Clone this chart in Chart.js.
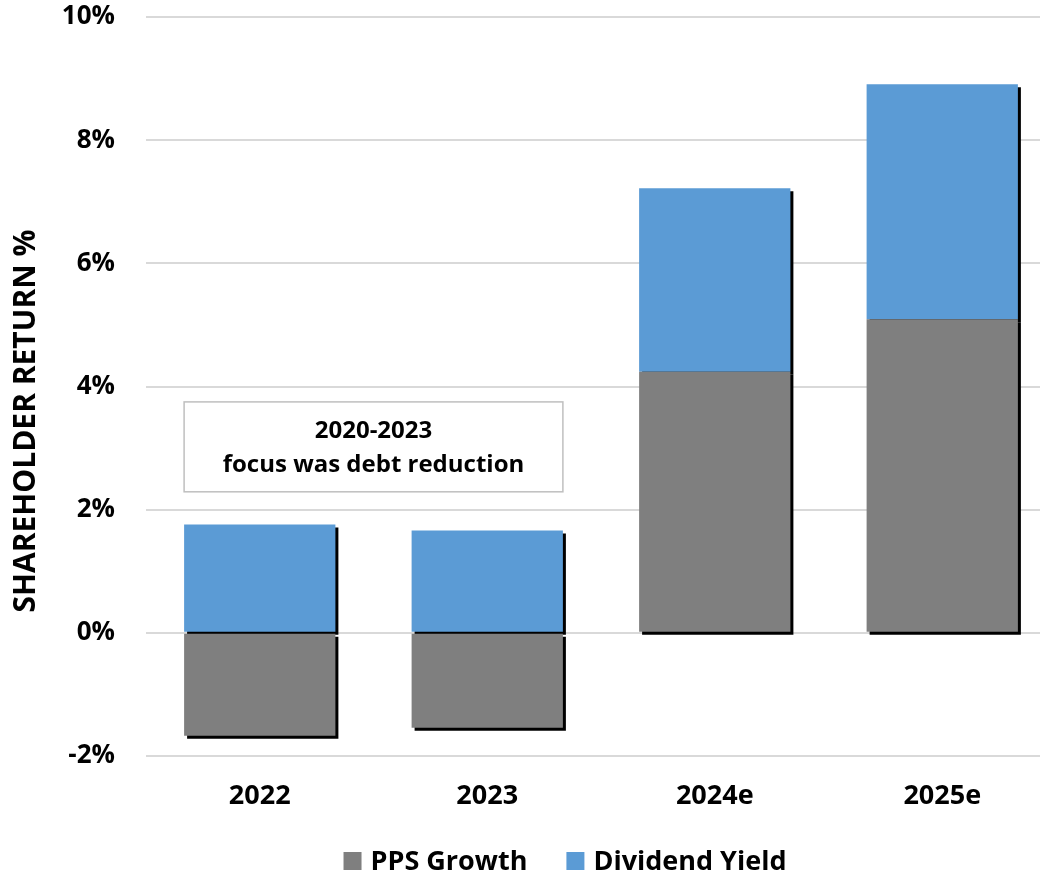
<!DOCTYPE html>
<html>
<head>
<meta charset="utf-8">
<script src="https://cdn.jsdelivr.net/npm/chart.js@4.4.1/dist/chart.umd.min.js"></script>
<style>
  html, body { margin: 0; padding: 0; background: #fff; }
  #wrap { width: 1040px; height: 875px; position: relative; }
</style>
</head>
<body>
<div id="wrap"><canvas id="c" width="1040" height="875"></canvas></div>
<script>
// ---- data ----
const categories = ['2022', '2023', '2024e', '2025e'];
const ppsGrowth = [-1.67, -1.54, 4.24, 5.09];
const dividendYield = [1.76, 1.66, 2.98, 3.82];
const seriesNames = ['PPS Growth', 'Dividend Yield'];
const yTicks = [-2, 0, 2, 4, 6, 8, 10];
const axisTitle = 'SHAREHOLDER RETURN %';
const noteLines = ['2020-2023', 'focus was debt reduction'];
const noteRange = [2.29, 3.75];   // value range of the note box

const GRAY = '#7f7f7f';
const BLUE = '#5b9bd5';
const FONT = '"Open Sans", sans-serif';
const OVERHANG = 16; // plot area runs past the right edge of the canvas

const overhangPlugin = {
  id: 'overhang',
  afterLayout(chart) {
    const x = chart.scales.x;
    const ca = chart.chartArea;
    x.right = chart.width + OVERHANG;
    x.width = x.right - x.left;
    x.configure();
    ca.right = x.right;
    ca.width = ca.right - ca.left;
  }
};

const shadowPlugin = {
  id: 'barShadow',
  beforeDatasetsDraw(chart) {
    const ctx = chart.ctx;
    ctx.save();
    ctx.shadowColor = '#000';
    ctx.shadowOffsetX = 3;
    ctx.shadowOffsetY = 3;
    ctx.shadowBlur = 0;
  },
  afterDatasetsDraw(chart) {
    chart.ctx.restore();
  }
};

const extrasPlugin = {
  id: 'extras',
  afterDraw(chart) {
    const ctx = chart.ctx;
    const ys = chart.scales.y;
    // y-axis title
    ctx.save();
    ctx.translate(26, 421);
    ctx.rotate(-Math.PI / 2);
    ctx.font = 'bold 30px ' + FONT;
    ctx.fillStyle = '#000';
    ctx.textAlign = 'center';
    ctx.textBaseline = 'middle';
    ctx.fillText(axisTitle, 0, 0);
    ctx.restore();

    // note box spanning the first two bars
    const meta = chart.getDatasetMeta(0);
    const b0 = meta.data[0], b1 = meta.data[1];
    const x0 = b0.x - b0.width / 2;
    const x1 = b1.x + b1.width / 2;
    const yTop = ys.getPixelForValue(noteRange[1]);
    const yBot = ys.getPixelForValue(noteRange[0]);
    ctx.save();
    ctx.fillStyle = '#fff';
    ctx.fillRect(x0, yTop, x1 - x0, yBot - yTop);
    ctx.strokeStyle = '#bfbfbf';
    ctx.lineWidth = 1.5;
    ctx.strokeRect(x0, yTop, x1 - x0, yBot - yTop);
    ctx.fillStyle = '#000';
    ctx.font = 'bold 24px ' + FONT;
    ctx.textAlign = 'center';
    ctx.textBaseline = 'middle';
    const cx = (x0 + x1) / 2;
    const cy = (yTop + yBot) / 2;
    ctx.fillText(noteLines[0], cx, cy - 16);
    ctx.fillText(noteLines[1], cx, cy + 18);
    ctx.restore();

    // legend
    ctx.save();
    ctx.font = 'bold 27px ' + FONT;
    ctx.textBaseline = 'middle';
    ctx.textAlign = 'left';
    const box = 18, gapText = 9, gapItem = 39;
    const items = chart.data.datasets.map(d => ({ label: d.label, color: d.backgroundColor }));
    let total = 0;
    items.forEach((it, i) => {
      it.w = box + gapText + ctx.measureText(it.label).width;
      total += it.w + (i ? gapItem : 0);
    });
    let x = 565 - total / 2;
    const ly = 861;
    items.forEach(it => {
      ctx.fillStyle = it.color;
      ctx.fillRect(x, ly - box / 2, box, box);
      ctx.fillStyle = '#000';
      ctx.fillText(it.label, x + box + gapText, ly + 1);
      x += it.w + gapItem;
    });
    ctx.restore();
  }
};

new Chart(document.getElementById('c'), {
  type: 'bar',
  data: {
    labels: categories,
    datasets: [
      { label: seriesNames[0], data: ppsGrowth, backgroundColor: GRAY, borderWidth: 0 },
      { label: seriesNames[1], data: dividendYield, backgroundColor: BLUE, borderWidth: 0 }
    ]
  },
  options: {
    responsive: false,
    animation: false,
    devicePixelRatio: 1,
    layout: { padding: { top: 17, right: 0, bottom: 39, left: 0 } },
    datasets: { bar: { categoryPercentage: 1, barPercentage: 0.665 } },
    plugins: {
      legend: { display: false },
      title: { display: false },
      tooltip: { enabled: false }
    },
    scales: {
      x: {
        stacked: true,
        grid: { display: false, drawTicks: false },
        border: { display: false },
        ticks: { color: '#000', font: { family: FONT, size: 27, weight: 'bold' }, padding: 24 },
        afterFit(s) { s.height = 80; s.paddingLeft = 0; s.paddingRight = 0; }
      },
      y: {
        stacked: true,
        min: -2, max: 10,
        afterBuildTicks(s) { s.ticks = yTicks.map(v => ({ value: v })); },
        grid: { color: '#d9d9d9', lineWidth: 2, drawTicks: false },
        border: { display: false },
        ticks: {
          color: '#000',
          font: { family: FONT, size: 26, weight: 'bold' },
          padding: 31,
          callback: v => v + '%'
        },
        afterFit(s) { s.width = 146; s.paddingTop = 16; s.paddingBottom = 16; }
      }
    }
  },
  plugins: [overhangPlugin, shadowPlugin, extrasPlugin]
});
</script>
</body>
</html>
